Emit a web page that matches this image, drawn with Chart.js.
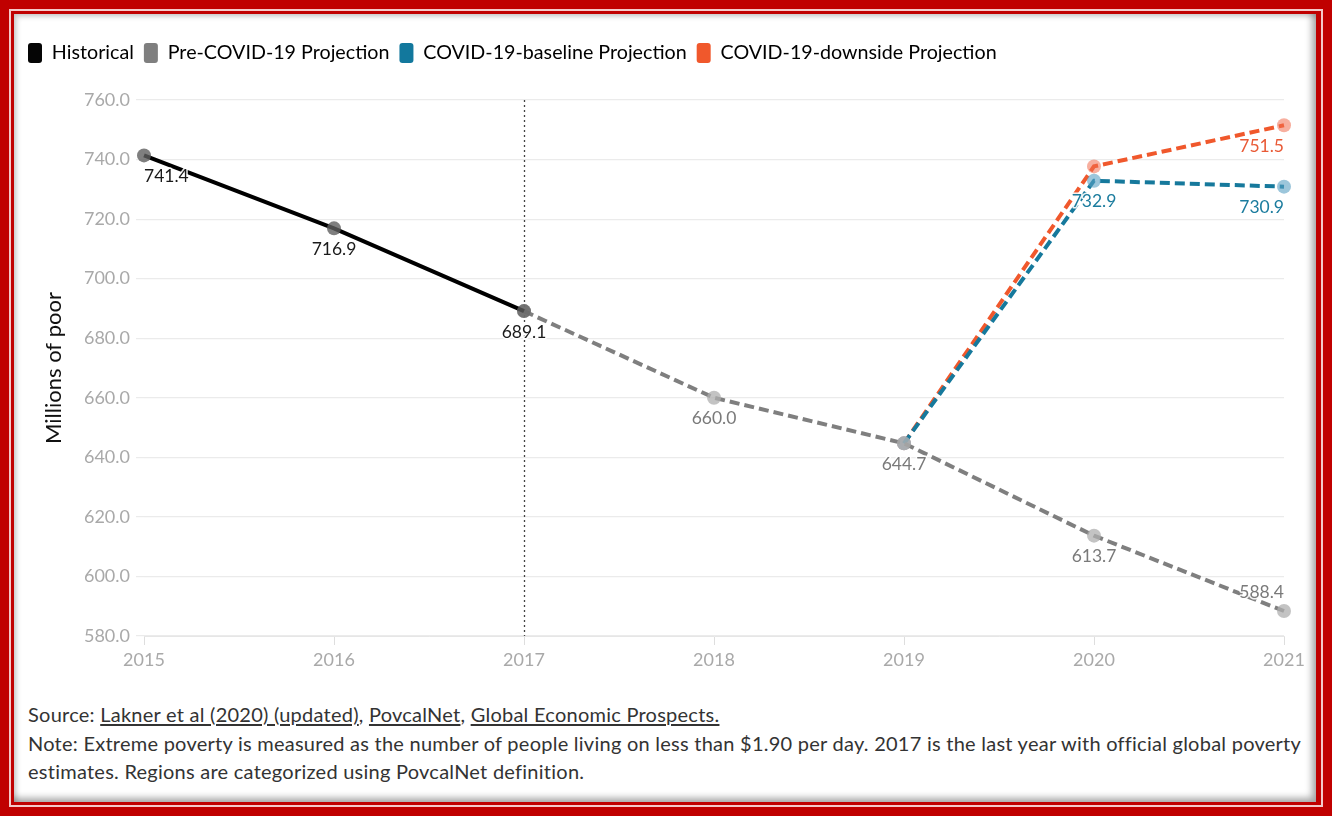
<!DOCTYPE html>
<html>
<head>
<meta charset="utf-8">
<script src="https://cdn.jsdelivr.net/npm/chart.js@4/dist/chart.umd.min.js"></script>
<style>
  html, body { margin: 0; padding: 0; }
  body { width: 1332px; height: 816px; background: #c00000; position: relative; overflow: hidden; font-family: Lato, "Liberation Sans", sans-serif; }
  #frame { position: absolute; left: 9px; top: 9px; width: 1314px; height: 798px; box-sizing: border-box; border: 2px solid #f4c9c9; background: #c00000; }
  #panel { position: absolute; left: 14px; top: 14px; width: 1302px; height: 788px; background: #fff;
           box-shadow: inset -4px -4px 7px rgba(0,0,0,0.35), inset 3px 3px 5px rgba(0,0,0,0.18); }
  #chartBox { position: absolute; left: 15px; top: 15px; width: 1301px; height: 665px; }
  #footer { position: absolute; left: 28px; top: 700px; color: #333; font-size: 20px; letter-spacing: 0.25px; line-height: 28.5px; white-space: nowrap; }
  #footer u { text-decoration: underline; text-underline-offset: 2px; }
</style>
</head>
<body>
<div id="frame"></div>
<div id="panel"></div>
<div id="chartBox"><canvas id="c"></canvas></div>
<div id="footer">
  <div>Source: <u>Lakner et al (2020) (updated)</u>, <u>PovcalNet</u>, <u>Global Economic Prospects.</u></div>
  <div>Note: Extreme poverty is measured as the number of people living on less than $1.90 per day. 2017 is the last year with official global poverty</div>
  <div>estimates. Regions are categorized using PovcalNet definition.</div>
</div>
<script>
// ---- data ----
const years = ['2015', '2016', '2017', '2018', '2019', '2020', '2021'];
const historical = [741.4, 716.9, 689.1, null, null, null, null];
const preCovid   = [null, null, 689.1, 660.0, 644.7, 613.7, 588.4];
const covidBaseline = [null, null, null, null, 644.7, 732.9, 730.9];
const covidDownside = [null, null, null, null, 644.7, 737.7, 751.5];
const seriesNames = ['Historical', 'Pre-COVID-19 Projection', 'COVID-19-baseline Projection', 'COVID-19-downside Projection'];
const yTicks = [580, 600, 620, 640, 660, 680, 700, 720, 740, 760];
const lastOfficialYear = '2017';
const yTitle = 'Millions of poor';

// ---- styles ----
const FONT = 'Lato, "Liberation Sans", sans-serif';
const lineColors   = ['#000000', '#7f7f7f', '#16799c', '#f0582c'];
const legendColors = ['#050505', '#7f7f7f', '#12789d', '#f0582c'];
const pointColors  = ['rgba(95,95,95,0.8)', 'rgba(175,175,175,0.75)', 'rgba(90,160,195,0.6)', 'rgba(240,110,80,0.55)'];
const labelColors  = ['#1a1a1a', '#7a7a7a', '#1b7c9e', '#e95a36'];

const legendSpacer = {
  id: 'legendSpacer',
  beforeInit(chart) {
    const lg = chart.legend;
    if (!lg) return;
    const orig = lg.fit;
    lg.fit = function () { orig.call(this); this.height += 27; };
  }
};

const refLine = {
  id: 'refLine',
  beforeDatasetsDraw(chart) {
    const x = chart.scales.x.getPixelForValue(years.indexOf(lastOfficialYear));
    const a = chart.chartArea, ctx = chart.ctx;
    ctx.save();
    ctx.strokeStyle = '#444';
    ctx.lineWidth = 1.3;
    ctx.setLineDash([2, 3]);
    ctx.beginPath();
    ctx.moveTo(Math.round(x) + 0.5, a.top);
    ctx.lineTo(Math.round(x) + 0.5, a.bottom);
    ctx.stroke();
    ctx.restore();
  }
};

const valueLabels = {
  id: 'valueLabels',
  afterDatasetsDraw(chart) {
    const ctx = chart.ctx, area = chart.chartArea;
    const placed = [];
    ctx.save();
    ctx.font = '17.5px ' + FONT;
    ctx.textBaseline = 'middle';
    ctx.textAlign = 'left';
    chart.data.datasets.forEach((ds, di) => {
      const meta = chart.getDatasetMeta(di);
      meta.data.forEach((pt, i) => {
        const v = ds.data[i];
        if (v == null) return;
        const text = v.toFixed(1);
        const w = ctx.measureText(text).width, h = 17;
        let y = pt.y + 21;
        let left = pt.x - w / 2;
        if (left < area.left) left = pt.x;
        else if (pt.x + w / 2 > area.right) left = pt.x - w;
        if (y + h / 2 > area.bottom) y = pt.y - 19;
        const box = { l: left, r: left + w, t: y - h / 2, b: y + h / 2 };
        if (placed.some(p => !(box.r < p.l || box.l > p.r || box.b < p.t || box.t > p.b))) return;
        placed.push(box);
        ctx.lineWidth = 3;
        ctx.strokeStyle = 'rgba(255,255,255,0.9)';
        ctx.lineJoin = 'round';
        ctx.strokeText(text, left, y);
        ctx.fillStyle = labelColors[di];
        ctx.fillText(text, left, y);
      });
    });
    ctx.restore();
  }
};

function mkSet(i, data, dash) {
  return {
    label: seriesNames[i],
    data: data,
    borderColor: lineColors[i],
    backgroundColor: legendColors[i],
    borderWidth: 4,
    borderDash: dash,
    pointRadius: 7,
    pointHoverRadius: 7,
    pointBorderWidth: 0,
    pointBackgroundColor: pointColors[i],
    tension: 0,
    spanGaps: false
  };
}

new Chart(document.getElementById('c'), {
  type: 'line',
  data: {
    labels: years,
    datasets: [
      mkSet(0, historical, []),
      mkSet(1, preCovid, [10, 5]),
      mkSet(2, covidBaseline, [10, 5]),
      mkSet(3, covidDownside, [10, 5])
    ]
  },
  options: {
    responsive: true,
    maintainAspectRatio: false,
    animation: false,
    events: [],
    layout: { padding: { left: 3, right: 32, top: 18, bottom: 0 } },
    plugins: {
      tooltip: { enabled: false },
      legend: {
        position: 'top',
        align: 'start',
        labels: {
          boxWidth: 14,
          boxHeight: 20,
          useBorderRadius: true,
          borderRadius: 3,
          padding: 10,
          color: '#333',
          font: { family: FONT, size: 19.7 },
          generateLabels: (chart) => chart.data.datasets.map((ds, i) => ({
            text: ds.label, fillStyle: legendColors[i], strokeStyle: legendColors[i],
            lineWidth: 0, hidden: false, datasetIndex: i, borderRadius: 3
          }))
        }
      }
    },
    scales: {
      x: {
        type: 'category',
        offset: false,
        afterFit: (s) => { s.height = 44; },
        grid: { drawOnChartArea: false, drawTicks: true, tickLength: 9, color: '#dedede' },
        border: { display: true, color: '#e6e6e6' },
        ticks: { color: '#a9a9a9', font: { family: FONT, size: 18 }, padding: 4, maxRotation: 0, autoSkip: false }
      },
      y: {
        min: yTicks[0],
        max: yTicks[yTicks.length - 1],
        afterBuildTicks: (s) => { s.ticks = yTicks.map(v => ({ value: v })); },
        afterFit: (s) => { s.width = 126; },
        grid: { color: '#ebebeb', lineWidth: 1.2, drawTicks: true, tickLength: 8 },
        border: { display: false },
        ticks: { color: '#a9a9a9', font: { family: FONT, size: 18 }, padding: 6, callback: (v) => Number(v).toFixed(1) },
        title: { display: true, text: yTitle, color: '#111', font: { family: FONT, size: 22 }, padding: { top: 23, bottom: 0 } }
      }
    }
  },
  plugins: [legendSpacer, refLine, valueLabels]
});
</script>
</body>
</html>
